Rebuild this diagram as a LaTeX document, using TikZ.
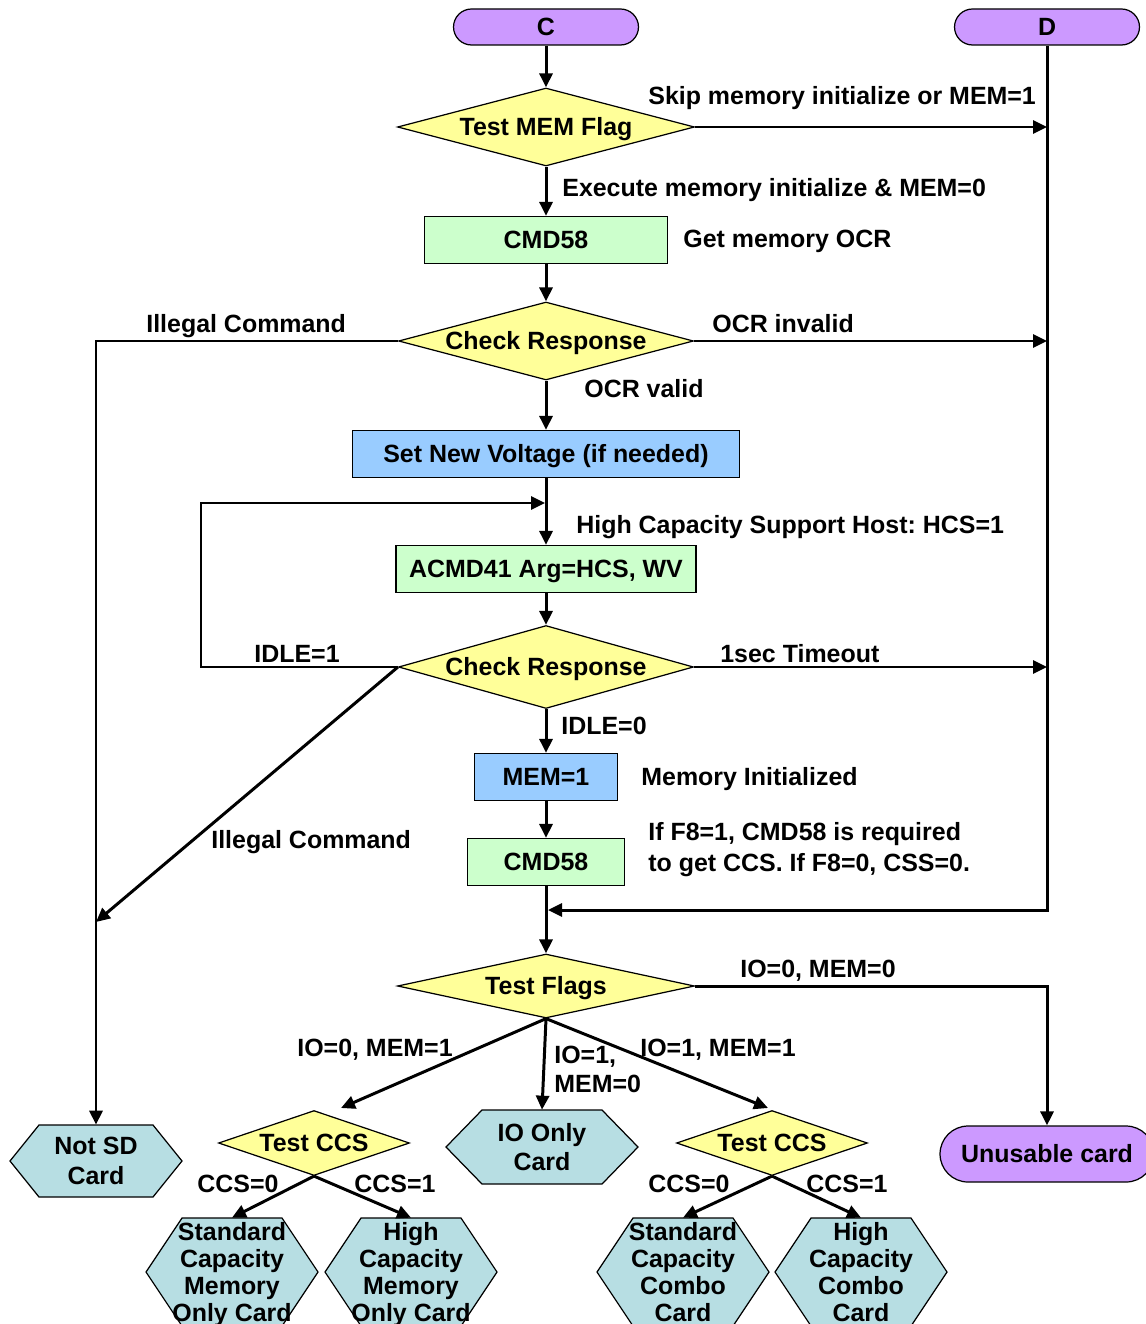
\documentclass[tikz,border=0pt]{standalone}
\usepackage{fontspec}
\setmainfont{Liberation Sans}
\frenchspacing
\usetikzlibrary{shapes.geometric,shapes.misc,arrows.meta}
\definecolor{termfill}{RGB}{204,153,255}
\definecolor{testfill}{RGB}{255,255,153}
\definecolor{cmdfill}{RGB}{204,255,204}
\definecolor{setfill}{RGB}{153,204,255}
\definecolor{cardfill}{RGB}{183,222,227}
\tikzset{
  txt/.style={font=\bfseries\fontsize{14.2}{17}\selectfont},
  terminal/.style={txt, rounded rectangle, draw, line width=0.7pt, fill=termfill, minimum width=3.7cm, minimum height=0.72cm, inner sep=0pt, text height=0.35cm, text depth=0pt},
  decision/.style={txt, diamond, draw, line width=0.7pt, fill=testfill, inner sep=0pt, text height=0.35cm, text depth=0pt},
  stepbox/.style={txt, rectangle, draw, line width=0.7pt, minimum height=0.94cm, inner sep=0pt, text height=0.35cm, text depth=0pt},
  cardtext/.style={txt, align=center, inner sep=0pt, text depth=0pt},
  lbl/.style={txt, inner sep=0pt},
  flow/.style={line width=1.7pt},
  flowarrow/.style={flow, -{Triangle[length=0.28cm, width=0.26cm]}}
}
% name, x, y, half width, half height, half width of top edge, text
\newcommand{\hexcard}[7]{%
  \filldraw[line width=0.7pt, fill=cardfill] ({#2-#4},#3) -- ({#2-#6},{#3-#5}) -- ({#2+#6},{#3-#5})
    -- ({#2+#4},#3) -- ({#2+#6},{#3+#5}) -- ({#2-#6},{#3+#5}) -- cycle;
  \node[cardtext, minimum width={2*#4*0.02cm}, minimum height={2*#5*0.02cm}] (#1) at (#2,#3) {#7};
}
\begin{document}
\begin{tikzpicture}[x=0.02cm, y=-0.02cm]
\useasboundingbox (0,0) rectangle (1145,1324);

\node[terminal] (c) at (546,27) {C};
\node[terminal] (d) at (1047,27) {D};
\node[decision, minimum width=5.94cm, minimum height=1.56cm, aspect=3.8] (memflag) at (546,127) {Test MEM Flag};
\node[stepbox, fill=cmdfill, minimum width=4.86cm] (cmda) at (546,240) {CMD58};
\node[decision, minimum width=5.9cm, minimum height=1.56cm, aspect=3.78] (respa) at (546,341) {Check Response};
\node[stepbox, fill=setfill, minimum width=7.74cm] (volt) at (546,454) {Set New Voltage (if needed)};
\node[stepbox, fill=cmdfill, minimum width=6cm] (acmd) at (546,569) {ACMD41 Arg=HCS, WV};
\node[decision, minimum width=5.9cm, minimum height=1.66cm, aspect=3.55] (respb) at (546,667) {Check Response};
\node[stepbox, fill=setfill, minimum width=2.86cm] (memone) at (546,777) {MEM=1};
\node[stepbox, fill=cmdfill, minimum width=3.14cm] (cmdb) at (546,862) {CMD58};
\node[decision, minimum width=5.94cm, minimum height=1.28cm, aspect=4.64] (flags) at (546,986) {Test Flags};
\node[decision, minimum width=3.82cm, minimum height=1.3cm, aspect=2.94] (ccsa) at (314,1143) {Test CCS};
\node[decision, minimum width=3.82cm, minimum height=1.3cm, aspect=2.94] (ccsb) at (772,1143) {Test CCS};
\node[terminal, minimum width=4.28cm, minimum height=1.12cm] (unusable) at (1047,1154) {Unusable card};

\hexcard{notsd}{96}{1161}{86}{36}{57}{Not SD\\Card}
\hexcard{ioonly}{542}{1147}{96}{37}{60}{IO Only\\Card}
\begin{scope}[cardtext/.append style={font=\bfseries\fontsize{14.2}{15.4}\selectfont}]
\hexcard{stdmem}{232}{1272}{86}{54}{50}{Standard\\Capacity\\Memory\\Only Card}
\hexcard{highmem}{411}{1272}{86}{54}{50}{High\\Capacity\\Memory\\Only Card}
\hexcard{stdcombo}{683}{1272}{86}{54}{50}{Standard\\Capacity\\Combo\\Card}
\hexcard{highcombo}{861}{1272}{86}{54}{50}{High\\Capacity\\Combo\\Card}
\end{scope}

\coordinate (skipend) at (1047,127);
\coordinate (invalidend) at (1047,341);
\coordinate (timeoutend) at (1047,667);
\coordinate (djoin) at (548,910);
\coordinate (loopcorner) at (201,503);
\coordinate (loopjoin) at (545,503);
\coordinate (illegalend) at (96,922);
\coordinate (ccsain) at (341,1108);
\coordinate (ccsbin) at (768,1108);

\draw[flowarrow] (c.south) -- (memflag.north);
\draw[flowarrow] (memflag.east) -- (skipend);
\draw[flowarrow] (d.south) |- (djoin);
\draw[flowarrow] (memflag.south) -- (cmda.north);
\draw[flowarrow] (cmda.south) -- (respa.north);
\draw[flowarrow] (respa.west) -| (notsd.north);
\draw[flowarrow] (respa.east) -- (invalidend);
\draw[flowarrow] (respa.south) -- (volt.north);
\draw[flowarrow] (volt.south) -- (acmd.north);
\draw[flowarrow] (acmd.south) -- (respb.north);
\draw[flowarrow] (respb.west) -| (loopcorner) -- (loopjoin);
\draw[flowarrow] (respb.east) -- (timeoutend);
\draw[flowarrow] (respb.west) -- (illegalend);
\draw[flowarrow] (respb.south) -- (memone.north);
\draw[flowarrow] (memone.south) -- (cmdb.north);
\draw[flowarrow] (cmdb.south) -- (flags.north);
\draw[flowarrow] (flags.east) -| (unusable.north);
\draw[flowarrow] (flags.south) -- (ccsain);
\draw[flowarrow] (flags.south) -- (ioonly.north);
\draw[flowarrow] (flags.south) -- (ccsbin);
\draw[flowarrow] (ccsa.south) -- (stdmem.north);
\draw[flowarrow] (ccsa.south) -- (highmem.north);
\draw[flowarrow] (ccsb.south) -- (stdcombo.north);
\draw[flowarrow] (ccsb.south) -- (highcombo.north);

\node[lbl, anchor=base west] (skiplbl) at (648,105) {Skip memory initialize or MEM=1};
\node[lbl, anchor=base west] (execlbl) at (562,197) {Execute memory initialize \& MEM=0};
\node[lbl, anchor=base west] (ocrlbl) at (683,248) {Get memory OCR};
\node[lbl, anchor=base west] (illegala) at (146,333) {Illegal Command};
\node[lbl, anchor=base west] (invalidlbl) at (712,333) {OCR invalid};
\node[lbl, anchor=base west] (validlbl) at (584,397) {OCR valid};
\node[lbl, anchor=base west] (hcslbl) at (576,533) {High Capacity Support Host: HCS=1};
\node[lbl, anchor=base west] (idleone) at (254,662) {IDLE=1};
\node[lbl, anchor=base west] (timeoutlbl) at (720,662) {1sec Timeout};
\node[lbl, anchor=base west] (idlezero) at (561,734) {IDLE=0};
\node[lbl, anchor=base west] (initlbl) at (641,785) {Memory Initialized};
\node[lbl, anchor=north west, align=left, font=\bfseries\fontsize{14.2}{17.6}\selectfont] (f8lbl) at (648,822) {If F8=1, CMD58 is required\\to get CCS. If F8=0, CSS=0.};
\node[lbl, anchor=base west] (illegalb) at (211,848) {Illegal Command};
\node[lbl, anchor=base west] (iozz) at (740,977) {IO=0, MEM=0};
\node[lbl, anchor=base west] (iozo) at (297,1056) {IO=0, MEM=1};
\node[lbl, anchor=north west, align=left, font=\bfseries\fontsize{14.2}{16.5}\selectfont] (iooz) at (554,1046) {IO=1,\\MEM=0};
\node[lbl, anchor=base west] (iooo) at (640,1056) {IO=1, MEM=1};
\node[lbl, anchor=base west] (ccsaz) at (197,1192) {CCS=0};
\node[lbl, anchor=base west] (ccsao) at (354,1192) {CCS=1};
\node[lbl, anchor=base west] (ccsbz) at (648,1192) {CCS=0};
\node[lbl, anchor=base west] (ccsbo) at (806,1192) {CCS=1};
\end{tikzpicture}
\end{document}
